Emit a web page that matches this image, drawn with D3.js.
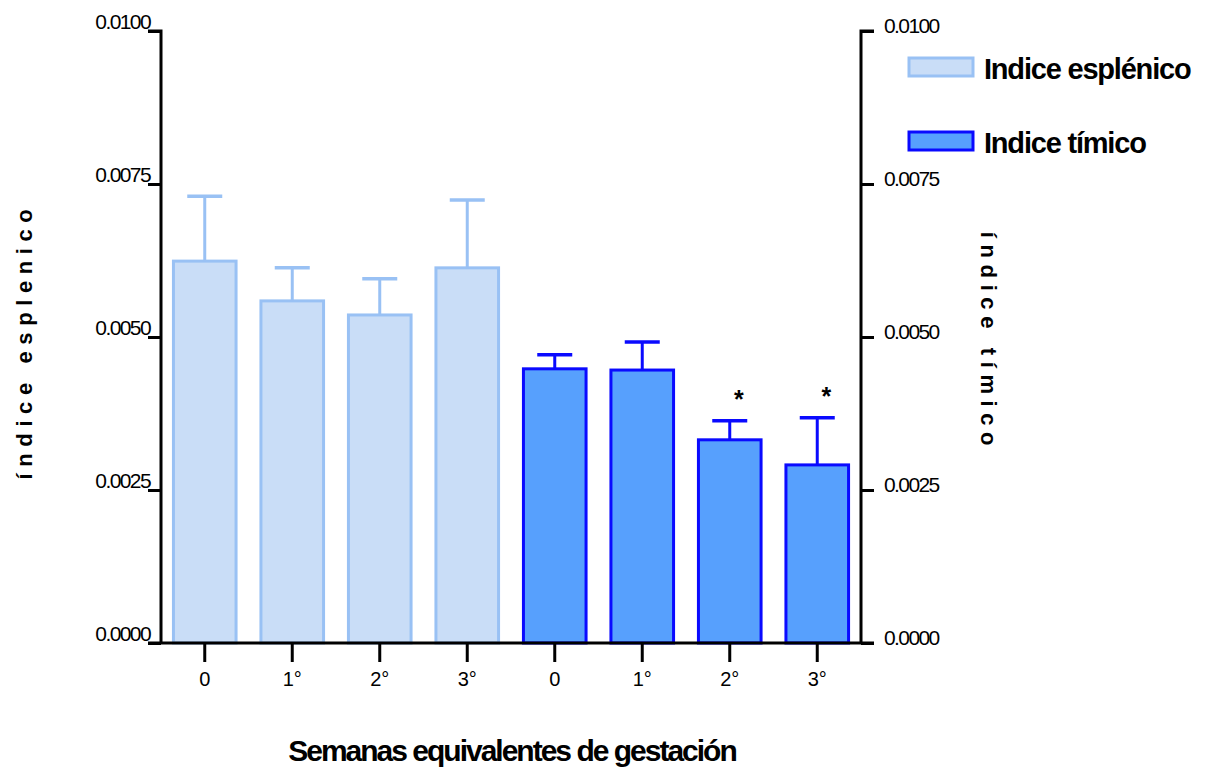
<!DOCTYPE html>
<html>
<head>
    <title>Indice esplénico y tímico</title>
    <style>
        body { margin: 0; background: #fff; }
        svg text { font-family: "Liberation Sans", Arial, sans-serif; fill: #000; }
        .tick-label { font-size: 21px; letter-spacing: -1.6px; }
        .x-label { font-size: 20px; }
        .legend-text { font-size: 29px; font-weight: bold; letter-spacing: -1.2px; }
        .y-title { font-size: 22px; font-weight: bold; letter-spacing: 6.6px; }
        .x-title { font-size: 30px; font-weight: bold; letter-spacing: -2px; }
        .star { font-size: 25px; font-weight: bold; }
    </style>
</head>
<body>
<div id="chart"></div>
<script src="https://d3js.org/d3.v7.min.js"></script>
<script>
    // data
    const weeks = ["0", "1°", "2°", "3°"];
    const esplenico = [0.00624, 0.00559, 0.00536, 0.00613];
    const esplenicoErr = [0.00106, 0.00054, 0.00059, 0.00111];
    const timico = [0.00448, 0.00446, 0.00332, 0.00291];
    const timicoErr = [0.00023, 0.00046, 0.00031, 0.00077];
    const timicoSignif = [false, false, true, true];
    const yTicks = [0, 0.0025, 0.005, 0.0075, 0.01];

    const W = 1209, H = 771;
    const plotL = 161, plotR = 861, plotT = 31, plotB = 643;

    const series = [
        { name: "Indice esplénico", values: esplenico, err: esplenicoErr, fill: "#c9ddf7", stroke: "#99c1f4", signif: [false, false, false, false] },
        { name: "Indice tímico", values: timico, err: timicoErr, fill: "#57a0fd", stroke: "#0a0aff", signif: timicoSignif }
    ];

    // one flat list of bars, spleen first then thymus
    const bars = [];
    series.forEach((s, si) => {
        weeks.forEach((w, i) => {
            bars.push({ key: si + "-" + i, week: w, v: s.values[i], e: s.err[i], s: s, star: s.signif[i] });
        });
    });

    const svg = d3.select("#chart").append("svg")
        .attr("width", W)
        .attr("height", H);

    const x = d3.scaleBand()
        .domain(bars.map(d => d.key))
        .range([plotL, plotR])
        .paddingInner(0.25)
        .paddingOuter(0.125);

    const y = d3.scaleLinear().domain([0, 0.01]).range([plotB, plotT]);
    const fmt = d3.format(".4f");

    // bars
    svg.selectAll("rect.bar").data(bars).enter().append("rect")
        .attr("class", "bar")
        .attr("x", d => x(d.key) + 1.5)
        .attr("width", x.bandwidth() - 3)
        .attr("y", d => y(d.v))
        .attr("height", d => y(0) - y(d.v))
        .attr("fill", d => d.s.fill)
        .attr("stroke", d => d.s.stroke)
        .attr("stroke-width", 3);

    // error bars (upper only)
    const capW = 35;
    const eb = svg.selectAll("g.err").data(bars).enter().append("g").attr("class", "err");
    eb.append("line")
        .attr("x1", d => x(d.key) + x.bandwidth() / 2)
        .attr("x2", d => x(d.key) + x.bandwidth() / 2)
        .attr("y1", d => y(d.v))
        .attr("y2", d => y(d.v + d.e))
        .attr("stroke", d => d.s.stroke)
        .attr("stroke-width", 3);
    eb.append("line")
        .attr("x1", d => x(d.key) + x.bandwidth() / 2 - capW / 2)
        .attr("x2", d => x(d.key) + x.bandwidth() / 2 + capW / 2)
        .attr("y1", d => y(d.v + d.e))
        .attr("y2", d => y(d.v + d.e))
        .attr("stroke", d => d.s.stroke)
        .attr("stroke-width", 3.5);

    // significance stars
    svg.selectAll("text.star").data(bars.filter(d => d.star)).enter().append("text")
        .attr("class", "star")
        .attr("text-anchor", "middle")
        .attr("x", d => x(d.key) + x.bandwidth() / 2 + 9)
        .attr("y", d => y(d.v + d.e) - 13)
        .text("*");

    // left axis
    const axL = svg.append("g").attr("transform", `translate(${plotL},0)`)
        .call(d3.axisLeft(y).tickValues(yTicks).tickSize(13).tickFormat(fmt));
    axL.select(".domain").attr("stroke-width", 3).attr("d", `M-13,${plotT}H0V${plotB}`);
    axL.selectAll(".tick line").attr("stroke-width", 3);
    axL.selectAll(".tick text").attr("class", "tick-label").attr("x", -11).attr("dy", "-0.1em");
    axL.attr("font-size", null).attr("font-family", null);

    // right axis
    const axR = svg.append("g").attr("transform", `translate(${plotR},0)`)
        .call(d3.axisRight(y).tickValues(yTicks).tickSize(13).tickFormat(fmt));
    axR.select(".domain").attr("stroke-width", 3).attr("d", `M13,${plotT}H0V${plotB}`);
    axR.selectAll(".tick line").attr("stroke-width", 3);
    axR.selectAll(".tick text").attr("class", "tick-label").attr("x", 23).attr("dy", "0.05em");
    axR.attr("font-size", null).attr("font-family", null);

    // bottom axis
    const axB = svg.append("g").attr("transform", `translate(0,${plotB})`)
        .call(d3.axisBottom(x).tickSize(19).tickFormat(k => bars.find(b => b.key === k).week));
    axB.select(".domain").attr("stroke-width", 3).attr("d", `M${plotL - 13},0H${plotR + 13}`);
    axB.selectAll(".tick line").attr("stroke-width", 3);
    axB.selectAll(".tick text").attr("class", "x-label").attr("y", 29).attr("dy", "0.71em");
    axB.attr("font-size", null).attr("font-family", null);

    // axis titles
    svg.append("text").attr("class", "y-title")
        .attr("transform", "translate(32,341) rotate(-90)")
        .attr("text-anchor", "middle")
        .text("índice esplenico");
    svg.append("text").attr("class", "y-title")
        .attr("transform", "translate(981,342) rotate(90)")
        .attr("text-anchor", "middle")
        .text("índice tímico");
    svg.append("text").attr("class", "x-title")
        .attr("x", 512).attr("y", 761)
        .attr("text-anchor", "middle")
        .text("Semanas equivalentes de gestación");

    // legend
    const leg = svg.selectAll("g.legend").data(series).enter().append("g")
        .attr("class", "legend")
        .attr("transform", (d, i) => `translate(909,${58 + i * 74})`);
    leg.append("rect")
        .attr("width", 64).attr("height", 18)
        .attr("fill", d => d.fill)
        .attr("stroke", d => d.stroke)
        .attr("stroke-width", 3);
    leg.append("text").attr("class", "legend-text")
        .attr("x", 75).attr("y", 21)
        .text(d => d.name);
</script>
</body>
</html>
